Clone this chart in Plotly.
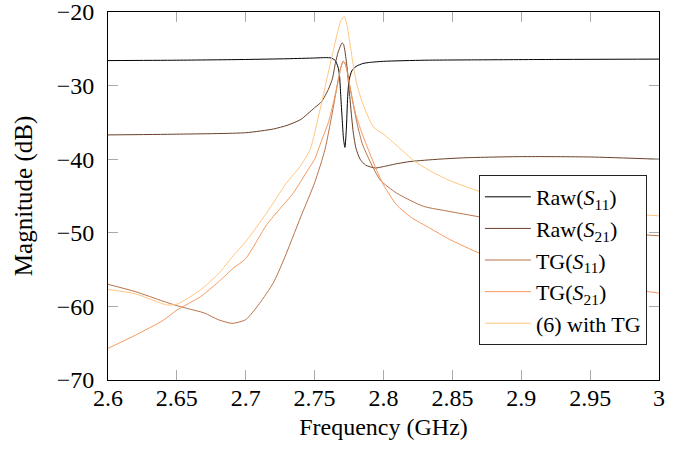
import plotly.graph_objects as go

# Raw(S11)
raw_s11_f = [2.60, 2.65, 2.70, 2.73, 2.75, 2.758, 2.762, 2.765, 2.767, 2.768, 2.769, 2.770,
             2.771, 2.772, 2.773, 2.774, 2.775, 2.777, 2.780, 2.785, 2.79, 2.80, 2.83, 2.87,
             2.92, 3.00]
raw_s11_db = [-26.6, -26.55, -26.45, -26.35, -26.25, -26.2, -26.25, -26.6, -27.5, -28.5, -31.5, -34.5,
              -37.3, -38.4, -36.0, -31.5, -29.3, -28.0, -27.4, -27.0, -26.85, -26.7, -26.55, -26.5,
              -26.45, -26.4]

# Raw(S21)
raw_s21_f = [2.60, 2.65, 2.70, 2.72, 2.73, 2.74, 2.75, 2.755, 2.76, 2.763, 2.765, 2.767, 2.769,
             2.770, 2.771, 2.772, 2.7735, 2.7755, 2.778, 2.780, 2.783, 2.787, 2.794, 2.80,
             2.81, 2.82, 2.84, 2.86, 2.90, 2.95, 3.00]
raw_s21_db = [-36.7, -36.6, -36.4, -35.9, -35.4, -34.6, -33.0, -32.2, -30.5, -29.0, -27.0, -25.5, -24.5,
              -24.2, -24.4, -25.3, -27.5, -31.5, -36.3, -38.5, -40.0, -40.8, -41.2, -41.0,
              -40.6, -40.3, -40.0, -39.8, -39.65, -39.7, -40.0]

# TG(S11)
tg_s11_f = [2.60, 2.62, 2.64, 2.65, 2.66, 2.67, 2.68, 2.69, 2.70, 2.71, 2.72, 2.7273, 2.74,
            2.75, 2.7575, 2.764, 2.767, 2.769, 2.771, 2.773, 2.775, 2.778, 2.781, 2.785,
            2.7975, 2.8095, 2.829, 2.848, 2.90, 2.95, 3.00]
tg_s11_db = [-57.0, -58.0, -59.3, -59.9, -60.4, -60.9, -61.8, -62.3, -61.8, -59.6, -56.8, -53.8, -47.8,
             -43.2, -38.7, -32.5, -29.3, -27.5, -26.7, -27.3, -29.5, -32.5, -35.3, -38.1,
             -42.8, -44.6, -46.4, -47.1, -48.8, -49.8, -50.4]

# TG(S21)
tg_s21_f = [2.60, 2.62, 2.64, 2.65, 2.667, 2.68, 2.691, 2.70, 2.7152, 2.725, 2.7345, 2.745, 2.75,
            2.755, 2.76, 2.764, 2.767, 2.769, 2.7705, 2.772, 2.774, 2.777, 2.780, 2.785, 2.789,
            2.795, 2.80, 2.8095, 2.82, 2.834, 2.848, 2.87, 2.90, 2.95, 3.00]
tg_s21_db = [-65.7, -63.9, -61.9, -60.5, -58.7, -56.7, -54.8, -53.5, -48.9, -46.7, -44.6, -41.5, -40.0,
             -37.5, -35.0, -32.0, -29.5, -27.6, -26.7, -27.0, -28.5, -31.5, -34.0, -36.8, -38.7,
             -41.5, -43.5, -46.2, -47.9, -49.4, -50.9, -52.8, -54.8, -56.8, -58.2]

# (6) with TG
eq6_f = [2.60, 2.62, 2.6426, 2.65, 2.6668, 2.68, 2.691, 2.70, 2.7152, 2.7297, 2.7394, 2.7467,
         2.7539, 2.759, 2.7636, 2.767, 2.769, 2.7716, 2.7735, 2.7757, 2.778, 2.7805, 2.785,
         2.7926, 2.80, 2.81, 2.822, 2.835, 2.848, 2.87, 2.90, 2.95, 3.00]
eq6_db = [-57.7, -58.3, -59.8, -59.7, -57.8, -55.6, -53.1, -51.2, -47.3, -43.2, -41.0, -38.7,
          -33.3, -29.0, -25.2, -22.5, -21.2, -20.6, -21.8, -24.3, -27.2, -29.7, -32.5,
          -35.6, -36.6, -38.2, -40.2, -41.7, -42.9, -44.4, -45.8, -47.0, -47.7]

names = ["Raw(<i>S</i><sub>11</sub>)", "Raw(<i>S</i><sub>21</sub>)", "TG(<i>S</i><sub>11</sub>)",
         "TG(<i>S</i><sub>21</sub>)", "(6) with TG"]
colors = ["#000000", "#6a4028", "#b8744a", "#f5995f", "#ffc77f"]

x_ticks = [2.6, 2.65, 2.7, 2.75, 2.8, 2.85, 2.9, 2.95, 3.0]
x_labels = ["2.6", "2.65", "2.7", "2.75", "2.8", "2.85", "2.9", "2.95", "3"]
y_ticks = [-70, -60, -50, -40, -30, -20]
y_labels = ["\u221270", "\u221260", "\u221250", "\u221240", "\u221230", "\u221220"]

series = [(raw_s11_f, raw_s11_db), (raw_s21_f, raw_s21_db), (tg_s11_f, tg_s11_db),
          (tg_s21_f, tg_s21_db), (eq6_f, eq6_db)]

fig = go.Figure()
for (f, db), name, color in zip(series, names, colors):
    fig.add_trace(go.Scatter(x=f, y=db, mode="lines", name=name,
                             line=dict(color=color, width=1, shape="spline", smoothing=0.6)))

font = "Liberation Serif, DejaVu Serif, serif"
axis_common = dict(
    showgrid=False, zeroline=False, showline=True, linecolor="#000000", linewidth=1,
    mirror="allticks", ticks="inside", ticklen=10, tickwidth=1, tickcolor="#aaaaaa",
    tickfont=dict(family=font, size=24, color="#000000"), automargin=False,
    ticklabeloverflow="allow",
)
fig.update_xaxes(range=[2.6, 3.0], tickvals=x_ticks, ticktext=x_labels,
                 title=dict(text="Frequency (GHz)", font=dict(family=font, size=24, color="#000000"), standoff=8),
                 ticklabelstandoff=-4, **axis_common)
fig.update_yaxes(range=[-70, -20], tickvals=y_ticks, ticktext=y_labels,
                 title=dict(text="Magnitude (dB)", font=dict(family=font, size=25, color="#000000"), standoff=16),
                 ticklabelstandoff=8, **axis_common)
fig.update_layout(
    width=678, height=449,
    margin=dict(l=108, r=19, t=12, b=69),
    paper_bgcolor="white", plot_bgcolor="white",
    legend=dict(x=0.978, y=0.557, xanchor="right", yanchor="top",
                bgcolor="white", bordercolor="#222222", borderwidth=1,
                font=dict(family=font, size=22, color="#000000"),
                tracegroupgap=0, itemwidth=46),
)
# drop the default 8px page margin so the figure sits flush in the window
fig.write_html("out.html", config={"displayModeBar": False},
               post_script="document.body.style.margin = '0';")
